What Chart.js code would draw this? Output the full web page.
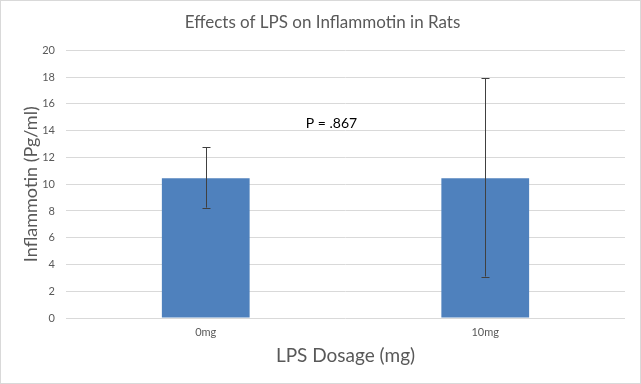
<!DOCTYPE html>
<html>
<head>
<meta charset="utf-8">
<script src="https://cdn.jsdelivr.net/npm/chart.js@4/dist/chart.umd.min.js"></script>
<style>
    html, body { margin: 0; padding: 0; background: #fff; }
    #wrap { width: 641px; height: 384px; position: relative; box-shadow: inset 0 0 0 1px #d9d9d9; }
</style>
</head>
<body>
<div id="wrap"><canvas id="chart"></canvas></div>
<script>
// values
const categories = ['0mg', '10mg'];
const means = [10.45, 10.45];
const errPlus = [2.3, 7.45];
const errMinus = [2.2, 7.35];
const pLabel = 'P = .867';
const pAt = { index: 0.45, value: 14.55 }; // where the P label sits, in data units

const font = 'Lato, "Open Sans", sans-serif';
const textGrey = '#595959';

// Chart.js has no error bars, so draw them from the arrays above
const errorBars = {
    id: 'errorBars',
    afterDatasetsDraw(chart) {
        const ctx = chart.ctx;
        const y = chart.scales.y;
        const meta = chart.getDatasetMeta(0);
        ctx.save();
        ctx.strokeStyle = '#404040';
        ctx.lineWidth = 1;
        meta.data.forEach(function (bar, i) {
            const x = Math.round(bar.x) + 0.5;
            const top = y.getPixelForValue(means[i] + errPlus[i]);
            const bottom = y.getPixelForValue(means[i] - errMinus[i]);
            ctx.beginPath();
            ctx.moveTo(x, top);
            ctx.lineTo(x, bottom);
            ctx.moveTo(x - 4, Math.round(top) + 0.5);
            ctx.lineTo(x + 4, Math.round(top) + 0.5);
            ctx.moveTo(x - 4, Math.round(bottom) + 0.5);
            ctx.lineTo(x + 4, Math.round(bottom) + 0.5);
            ctx.stroke();
        });
        ctx.restore();
    }
};

const pValue = {
    id: 'pValue',
    afterDraw(chart) {
        const ctx = chart.ctx;
        ctx.save();
        ctx.fillStyle = '#000';
        ctx.font = '14px ' + font;
        ctx.textAlign = 'center';
        ctx.textBaseline = 'middle';
        ctx.fillText(pLabel, chart.scales.x.getPixelForValue(pAt.index), chart.scales.y.getPixelForValue(pAt.value));
        ctx.restore();
    }
};

document.addEventListener('DOMContentLoaded', function () {
    const canvas = document.getElementById('chart');

    new Chart(canvas, {
        type: 'bar',
        data: {
            labels: categories,
            datasets: [{
                label: 'Inflammotin',
                data: means,
                backgroundColor: '#4f81bd',
                categoryPercentage: 1,
                barPercentage: 0.314
            }]
        },
        options: {
            responsive: true,
            maintainAspectRatio: false,
            animation: false,
            layout: {
                padding: { top: 8, right: 16, bottom: 17, left: 20 }
            },
            plugins: {
                legend: { display: false },
                tooltip: { enabled: false },
                title: {
                    display: true,
                    text: 'Effects of LPS on Inflammotin in Rats',
                    color: textGrey,
                    font: { family: font, size: 17, weight: 'normal' },
                    padding: { top: 4, bottom: 18 }
                }
            },
            scales: {
                x: {
                    grid: { display: false, drawTicks: false },
                    border: { display: false },
                    ticks: { color: textGrey, font: { family: font, size: 11 }, padding: 8 },
                    title: {
                        display: true,
                        text: 'LPS Dosage (mg)',
                        color: textGrey,
                        font: { family: font, size: 19 },
                        padding: { top: -3, bottom: 0 }
                    }
                },
                y: {
                    min: 0,
                    max: 20,
                    afterFit: function (scale) { scale.width = 46; },
                    ticks: { stepSize: 2, color: textGrey, font: { family: font, size: 11 }, padding: 11 },
                    grid: { color: '#d9d9d9', drawTicks: false },
                    border: { display: false },
                    title: {
                        display: true,
                        text: 'Inflammotin (Pg/ml)',
                        color: textGrey,
                        font: { family: font, size: 18 },
                        padding: 0
                    }
                }
            }
        },
        plugins: [errorBars, pValue]
    });
});
</script>
</body>
</html>
